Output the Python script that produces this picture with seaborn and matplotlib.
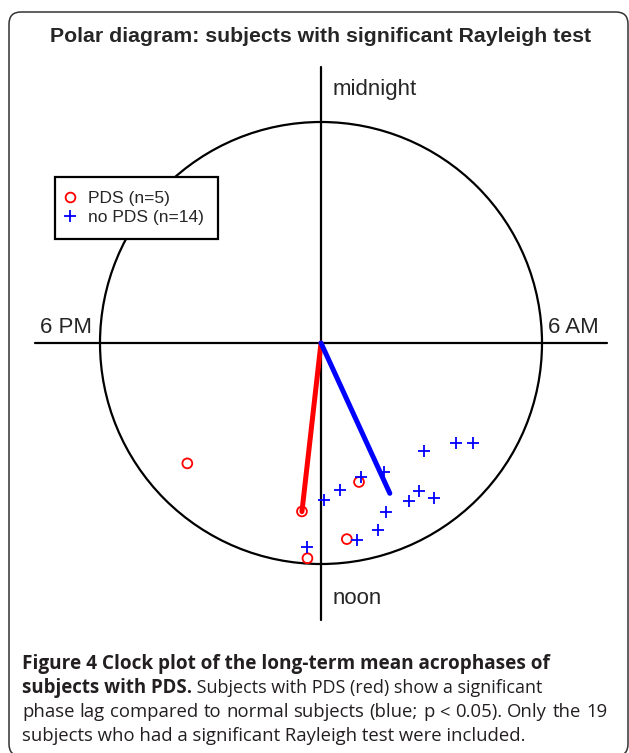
import numpy as np
import pandas as pd
import matplotlib
matplotlib.use("Agg")
import matplotlib.pyplot as plt
import seaborn as sns
from matplotlib.patches import Circle, FancyBboxPatch
from matplotlib.lines import Line2D
from matplotlib.transforms import IdentityTransform

# ---- data (acrophase in clock hours, vector length relative to unit circle) ----
pds_hours = [15.20, 10.98, 12.43, 11.50, 12.24]
pds_radius = [0.814, 0.652, 0.767, 0.895, 0.976]
nopds_hours = [8.43, 8.23, 9.10, 10.26, 10.89, 11.50, 11.93,
               9.76, 10.06, 9.59, 10.59, 10.87, 11.31, 12.27]
nopds_radius = [0.759, 0.822, 0.675, 0.648, 0.635, 0.670, 0.710,
                0.804, 0.819, 0.868, 0.821, 0.884, 0.908, 0.927]
mean_hours = {"PDS": 12.43, "no PDS": 10.36}
mean_radius = {"PDS": 0.768, "no PDS": 0.748}
clock_labels = ["midnight", "6 AM", "noon", "6 PM"]
legend_labels = ["PDS (n=5)", "no PDS (n=14)"]


def to_xy(h, r):
    a = 2 * np.pi * np.asarray(h) / 24.0
    return np.asarray(r) * np.sin(a), np.asarray(r) * np.cos(a)


px, py = to_xy(pds_hours, pds_radius)
nx, ny = to_xy(nopds_hours, nopds_radius)
df = pd.DataFrame({
    "x": np.concatenate([px, nx]),
    "y": np.concatenate([py, ny]),
    "group": ["PDS"] * len(px) + ["no PDS"] * len(nx),
})

sns.set_style("white")
plt.rcParams["font.family"] = ["Liberation Sans", "DejaVu Sans"]

W, H = 629, 753
fig = plt.figure(figsize=(W / 100, H / 100), dpi=100)
renderer = fig.canvas.get_renderer()

# geometry in pixels
cx, cy, R = 321.0, 343.0, 221.0
ax_top, ax_bot = 50.0, 630.0
ax = fig.add_axes([0, (H - ax_bot) / H, 1, (ax_bot - ax_top) / H])
ax.set_xlim(-cx / R, (W - cx) / R)
ax.set_ylim((cy - ax_bot) / R, (cy - ax_top) / R)
ax.axis("off")

# circle and cross
ax.add_patch(Circle((0, 0), 1.0, fill=False, ec="black", lw=1.6, zorder=2))
ax.plot([(35 - cx) / R, (607 - cx) / R], [0, 0], color="black", lw=1.6, zorder=2)
ax.plot([0, 0], [(cy - 620) / R, (cy - 67) / R], color="black", lw=1.6, zorder=2)

# mean vectors
for grp, col in [("PDS", "red"), ("no PDS", "blue")]:
    mx, my = to_xy(mean_hours[grp], mean_radius[grp])
    sns.lineplot(x=[0, float(mx)], y=[0, float(my)], sort=False, ax=ax,
                 color=col, lw=3.6, zorder=3, legend=False,
                 solid_capstyle="round")

# points
sub = df[df.group == "PDS"]
sns.scatterplot(data=sub, x="x", y="y", ax=ax, marker="o", s=50,
                color="red", linewidth=1.3, zorder=4, legend=False)
coll = ax.collections[-1]
coll.set_facecolor("none")
coll.set_edgecolor("red")

sub = df[df.group == "no PDS"]
sns.scatterplot(data=sub, x="x", y="y", ax=ax, marker="+", s=70,
                color="blue", linewidth=1.3, zorder=4, legend=False)
coll = ax.collections[-1]
coll.set_facecolor("blue")
coll.set_edgecolor("blue")

# clock labels
fs = 16
ax.text((333 - cx) / R, (cy - 95) / R, clock_labels[0], fontsize=fs, va="baseline", ha="left")
ax.text((333 - cx) / R, (cy - 604) / R, clock_labels[2], fontsize=fs, va="baseline", ha="left")
ax.text((40 - cx) / R, (cy - 333) / R, clock_labels[3], fontsize=fs, va="baseline", ha="left")
ax.text((548 - cx) / R, (cy - 333) / R, clock_labels[1], fontsize=fs, va="baseline", ha="left")

# legend
handles = [
    Line2D([], [], marker="o", ls="none", mfc="none", mec="red", ms=7, mew=1.3),
    Line2D([], [], marker="+", ls="none", color="blue", ms=8, mew=1.3),
]
leg = ax.legend(handles, legend_labels, loc="upper left",
                bbox_to_anchor=(55 / W, 1 - 177 / H), bbox_transform=fig.transFigure,
                borderaxespad=0, fancybox=False, framealpha=1, edgecolor="black",
                fontsize=12.5, handlelength=0.1, handletextpad=1.0,
                borderpad=0.8, labelspacing=0.22)
leg.get_frame().set_linewidth(1.6)

# title
fig.text(321 / W, 1 - 42.5 / H, "Polar diagram: subjects with significant Rayleigh test",
         ha="center", va="baseline", fontsize=15.3, fontweight="bold")

# caption
cap_font = ["Open Sans", "DejaVu Sans"]
cap_col = "#231F20"
x0 = 22


def caption_line(text, ybase, weight="normal", size=13.1, justify_to=None, xstart=x0):
    """Draw a caption line starting at pixel xstart; optionally justified to a pixel width."""
    yf = 1 - ybase / H
    if justify_to is None:
        t = fig.text(xstart / W, yf, text, family=cap_font, fontsize=size,
                     fontweight=weight, color=cap_col, va="baseline")
        return xstart + t.get_window_extent(renderer=renderer).width
    words = text.split(" ")
    arts = [fig.text(0, yf, w, family=cap_font, fontsize=size, fontweight=weight,
                     color=cap_col, va="baseline") for w in words]
    widths = [a.get_window_extent(renderer=renderer).width for a in arts]
    gap = (justify_to - sum(widths)) / (len(words) - 1)
    x = xstart
    for a, w in zip(arts, widths):
        a.set_x(x / W)
        x += w + gap
    return xstart + justify_to


caption_line("Figure 4 Clock plot of the long-term mean acrophases of", 669,
             weight="bold", size=13.7)
xe = caption_line("subjects with PDS.", 693, weight="bold", size=13.4)
caption_line(" Subjects with PDS (red) show a significant", 693, xstart=xe, size=13.0)
caption_line("phase lag compared to normal subjects (blue; p < 0.05). Only the 19", 717,
             justify_to=607 - x0, size=13.3)
caption_line("subjects who had a significant Rayleigh test were included.", 741, size=13.3)

# outer rounded frame
frame = FancyBboxPatch((9, -3), 619, 744, boxstyle="round,pad=0,rounding_size=12",
                       transform=IdentityTransform(), fill=False, ec="#333333", lw=1.1)
fig.patches.append(frame)
frame.set_figure(fig)

fig.savefig("out.png", dpi=100)
